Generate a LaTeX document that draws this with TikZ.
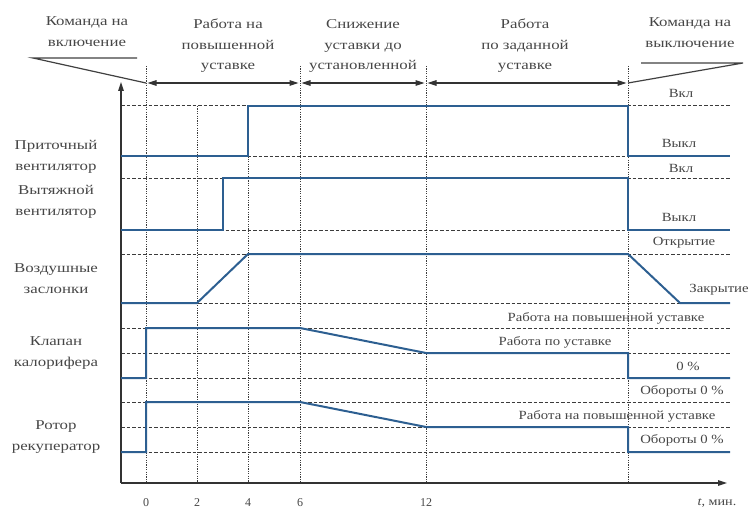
\documentclass[tikz,border=0pt]{standalone}
\usepackage{fontspec}
\usepackage{graphicx}
\setmainfont{Liberation Serif}
\usetikzlibrary{arrows.meta}
\definecolor{sig}{RGB}{45,95,145}
\definecolor{grid}{RGB}{60,60,60}
\definecolor{txt}{RGB}{70,70,70}
\newcommand{\stk}[1]{\scalebox{1.25}[1]{\begin{tabular}{@{}c@{}}#1\end{tabular}}}
\newcommand{\wid}[1]{\scalebox{1.18}[1]{#1}}
\tikzset{
  x=1pt,y=-1pt,
  sigline/.style={draw=sig,line width=2pt,line join=miter},
  hgrid/.style={draw=grid,line width=1pt,dash pattern=on 3.5pt off 2pt},
  vgrid/.style={draw=grid,line width=1pt,dash pattern=on 1.2pt off 1.2pt},
  axisline/.style={draw=black!80,line width=1.4pt},
  lbl/.style={text=txt,font=\fontsize{13.5}{20.5}\selectfont,inner sep=0pt},
  rlbl/.style={text=txt,font=\fontsize{12.5}{14}\selectfont,inner sep=0pt},
  tick/.style={text=txt,font=\fontsize{12}{13}\selectfont,inner sep=0pt},
  hdrarrow/.style={draw=black!80,line width=1.2pt,{Triangle[length=9pt,width=5.5pt]}-{Triangle[length=9pt,width=5.5pt]},shorten <=1.5pt,shorten >=1.5pt},
  cmdline/.style={draw=black!75,line width=1.2pt},
}
\begin{document}
\begin{tikzpicture}
\useasboundingbox (0,0) rectangle (756,511);
\def\xa{121}\def\xz{146}\def\xb{197}\def\xc{248}\def\xd{300}\def\xe{426}\def\xf{628}\def\xg{730}
% horizontal dashed grid
\foreach \yy in {106,156,178,230,254,303,328,353,378,402,427,452}
  \draw[hgrid] (\xa,\yy) -- (\xg,\yy);
% vertical dotted grid
\foreach \xx in {\xz,\xd,\xe,\xf}
  \draw[vgrid] (\xx,66) -- (\xx,483);
\foreach \xx in {\xb,\xc}
  \draw[vgrid] (\xx,106) -- (\xx,483);
% axes
\coordinate (o) at (\xa,483);
\coordinate (ytop) at (\xa,82);
\coordinate (xend) at (727,483);
\draw[axisline,-{Triangle[length=9pt,width=5.5pt]}] (o) -- (ytop);
\draw[axisline,-{Triangle[length=9pt,width=5.5pt]}] (o) -- (xend);
% signals
\draw[sigline] (\xa,156) -- (\xc,156) -- (\xc,106) -- (\xf,106) -- (\xf,156) -- (\xg,156);
\draw[sigline] (\xa,230) -- (223,230) -- (223,178) -- (\xf,178) -- (\xf,230) -- (\xg,230);
\draw[sigline] (\xa,303) -- (\xb,303) -- (\xc,254) -- (\xf,254) -- (680,303) -- (\xg,303);
\draw[sigline] (\xa,378) -- (\xz,378) -- (\xz,328) -- (\xd,328) -- (\xe,353) -- (\xf,353) -- (\xf,378) -- (\xg,378);
\draw[sigline] (\xa,452) -- (\xz,452) -- (\xz,402) -- (\xd,402) -- (\xe,427) -- (\xf,427) -- (\xf,452) -- (\xg,452);
% header arrows
\coordinate (h0) at (\xz,83);
\coordinate (h6) at (\xd,83);
\coordinate (h12) at (\xe,83);
\coordinate (hf) at (\xf,83);
\draw[hdrarrow] (h0) -- (h6);
\draw[hdrarrow] (h6) -- (h12);
\draw[hdrarrow] (h12) -- (hf);
% command pointers
\coordinate (onL) at (33,58);
\coordinate (onR) at (137,58);
\coordinate (offL) at (641,63);
\coordinate (offR) at (743,63);
\draw[cmdline] (onR) -- (onL) -- (h0);
\draw[cmdline] (offL) -- (offR) -- (hf);
% header texts
\node[lbl] (ton) at (87,32) {\stk{Команда на\\включение}};
\node[lbl] (tup) at (228,45) {\stk{Работа на\\повышенной\\уставке}};
\node[lbl] (tdown) at (363,45) {\stk{Снижение\\уставки до\\установленной}};
\node[lbl] (tset) at (525,45) {\stk{Работа\\по заданной\\уставке}};
\node[lbl] (toff) at (690,33) {\stk{Команда на\\выключение}};
% row labels
\node[lbl] (r1) at (56,156) {\stk{Приточный\\вентилятор}};
\node[lbl] (r2) at (56,201) {\stk{Вытяжной\\вентилятор}};
\node[lbl] (r3) at (56,279) {\stk{Воздушные\\заслонки}};
\node[lbl] (r4) at (56,352) {\stk{Клапан\\калорифера}};
\node[lbl] (r5) at (56,436) {\stk{Ротор\\рекуператор}};
% right labels
\node[rlbl] (s1) at (681,93) {\wid{Вкл}};
\node[rlbl] (s2) at (679,143) {\wid{Выкл}};
\node[rlbl] (s3) at (681,168) {\wid{Вкл}};
\node[rlbl] (s4) at (679,217) {\wid{Выкл}};
\node[rlbl] (s5) at (684,243) {\wid{Открытие}};
\node[rlbl] (s6) at (719,290) {\wid{Закрытие}};
\node[rlbl] (s7) at (606,318) {\wid{Работа на повышенной уставке}};
\node[rlbl] (s8) at (555,342) {\wid{Работа по уставке}};
\node[rlbl] (s9) at (688,366) {\wid{0 \%}};
\node[rlbl] (s10) at (682,391) {\wid{Обороты 0 \%}};
\node[rlbl] (s11) at (617,416) {\wid{Работа на повышенной уставке}};
\node[rlbl] (s12) at (682,440) {\wid{Обороты 0 \%}};
% time ticks
\node[tick] (t0) at (\xz,503) {0};
\node[tick] (t2) at (\xb,503) {2};
\node[tick] (t4) at (\xc,503) {4};
\node[tick] (t6) at (\xd,503) {6};
\node[tick] (t12) at (\xe,503) {12};
\node[tick] (tu) at (717,503) {\wid{\textit{t}, мин.}};
\end{tikzpicture}
\end{document}
